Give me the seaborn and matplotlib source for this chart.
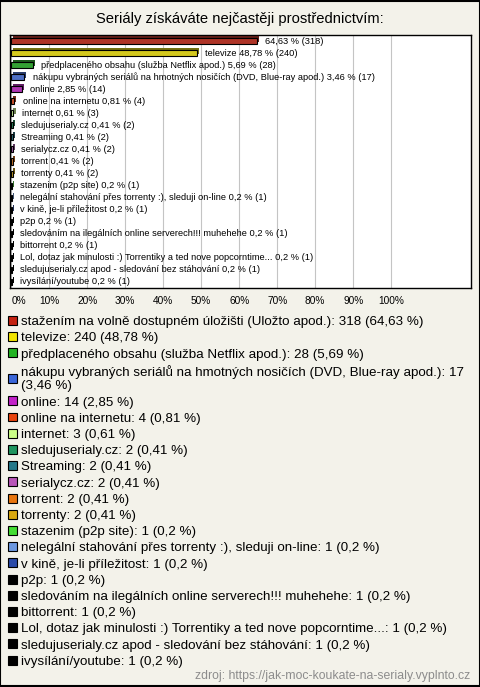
import matplotlib
matplotlib.use("Agg")
import matplotlib.pyplot as plt
import matplotlib.patheffects as pe
from matplotlib.patches import Patch, Rectangle
import pandas as pd
import seaborn as sns

TITLE = "Seriály získáváte nejčastěji prostřednictvím:"
SOURCE = "zdroj: https://jak-moc-koukate-na-serialy.vyplnto.cz"

categories = [
    "stažením na volně dostupném úložišti (Uložto apod.)",
    "televize",
    "předplaceného obsahu (služba Netflix apod.)",
    "nákupu vybraných seriálů na hmotných nosičích (DVD, Blue-ray apod.)",
    "online",
    "online na internetu",
    "internet",
    "sledujuserialy.cz",
    "Streaming",
    "serialycz.cz",
    "torrent",
    "torrenty",
    "stazenim (p2p site)",
    "nelegální stahování přes torrenty :), sleduji on-line",
    "v kině, je-li příležitost",
    "p2p",
    "sledováním na ilegálních online serverech!!! muhehehe",
    "bittorrent",
    "Lol, dotaz jak minulosti :) Torrentiky a ted nove popcorntime...",
    "sledujuserialy.cz apod - sledování bez stáhování",
    "ivysílání/youtube",
]
counts = [318, 240, 28, 17, 14, 4, 3, 2, 2, 2, 2, 2, 1, 1, 1, 1, 1, 1, 1, 1, 1]
percents = [64.63, 48.78, 5.69, 3.46, 2.85, 0.81, 0.61, 0.41, 0.41, 0.41, 0.41,
            0.41, 0.2, 0.2, 0.2, 0.2, 0.2, 0.2, 0.2, 0.2, 0.2]
colors = [
    "#c42211", "#f2e400", "#22b322", "#3a66d8", "#c222c8", "#e8440f",
    "#ccff88", "#1f9560", "#24788a", "#b855b8", "#e8750f", "#d8a80f",
    "#44dd33", "#6c98e0", "#2a4aa8", "#000000", "#000000", "#000000",
    "#000000", "#000000", "#000000",
]
x_ticks = [0, 10, 20, 30, 40, 50, 60, 70, 80, 90, 100]

BG = "#f3f2ea"


def fmt(v):
    return str(v).replace(".", ",")


df = pd.DataFrame({"category": categories, "percent": percents, "count": counts})

plt.rcParams["font.family"] = ["Liberation Sans", "DejaVu Sans"]
fig = plt.figure(figsize=(4.8, 6.87), dpi=100, facecolor=BG)
ax = fig.add_axes([10 / 480, 1 - 288 / 687, 461 / 480, 253 / 687])
ax.set_facecolor("white")

sns.barplot(data=df, x="percent", y="category", hue="category", palette=colors,
            legend=False, orient="h", width=0.5, edgecolor="black",
            linewidth=0.8, ax=ax, zorder=3)

# fake 3D depth like the original bars
for bar in ax.patches:
    bar.set_path_effects([pe.SimplePatchShadow(offset=(1.5, 1.5), rho=0.55, alpha=1.0),
                          pe.Normal()])

for i, (cat, p, n) in enumerate(zip(categories, percents, counts)):
    label = f"{fmt(p)} % ({n})" if i == 0 else f"{cat} {fmt(p)} % ({n})"
    ax.annotate(label, xy=(p, i), xytext=(6, 0), textcoords="offset points",
                va="center", ha="left", fontsize=6.7, zorder=4)

ax.set_xlim(-0.3, 121)
ax.set_xticks(x_ticks)
ax.set_xticklabels([f"{t}%" for t in x_ticks], fontsize=7.3)
ax.get_xticklabels()[0].set_horizontalalignment("left")
ax.set_yticks([])
ax.set_xlabel("")
ax.set_ylabel("")
ax.tick_params(axis="x", length=0, pad=6)
ax.grid(axis="x", color="#c4c4c4", linewidth=0.8, zorder=0)
ax.set_axisbelow(True)
for s in ax.spines.values():
    s.set_color("black")
    s.set_linewidth(1)

fig.text(0.5, 1 - 19 / 687, TITLE, ha="center", va="center", fontsize=10.6)

handles = []
labels = []
for cat, p, n, c in zip(categories, percents, counts, colors):
    text = f"{cat}: {n} ({fmt(p)} %)"
    if len(text) > 70:
        text = text.replace(": 17 (", ": 17\n(")
    handles.append(Patch(facecolor=c, edgecolor="black", linewidth=0.8))
    labels.append(text)

fig.legend(handles, labels, loc="upper left", bbox_to_anchor=(8 / 480, 1 - 316 / 687),
           frameon=False, fontsize=9.65, handlelength=0.65, handleheight=0.65,
           handletextpad=0.3, labelspacing=0.3, borderaxespad=0, borderpad=0)

fig.text(470 / 480, 1 - 676 / 687, SOURCE, ha="right", va="center",
         fontsize=8.8, color="#8c8c8c")

fig.patches.append(Rectangle((0.001, 0.001), 0.998, 0.998, transform=fig.transFigure,
                             fill=False, edgecolor="black", linewidth=1.5))

fig.savefig("out.png", dpi=100, facecolor=BG)
